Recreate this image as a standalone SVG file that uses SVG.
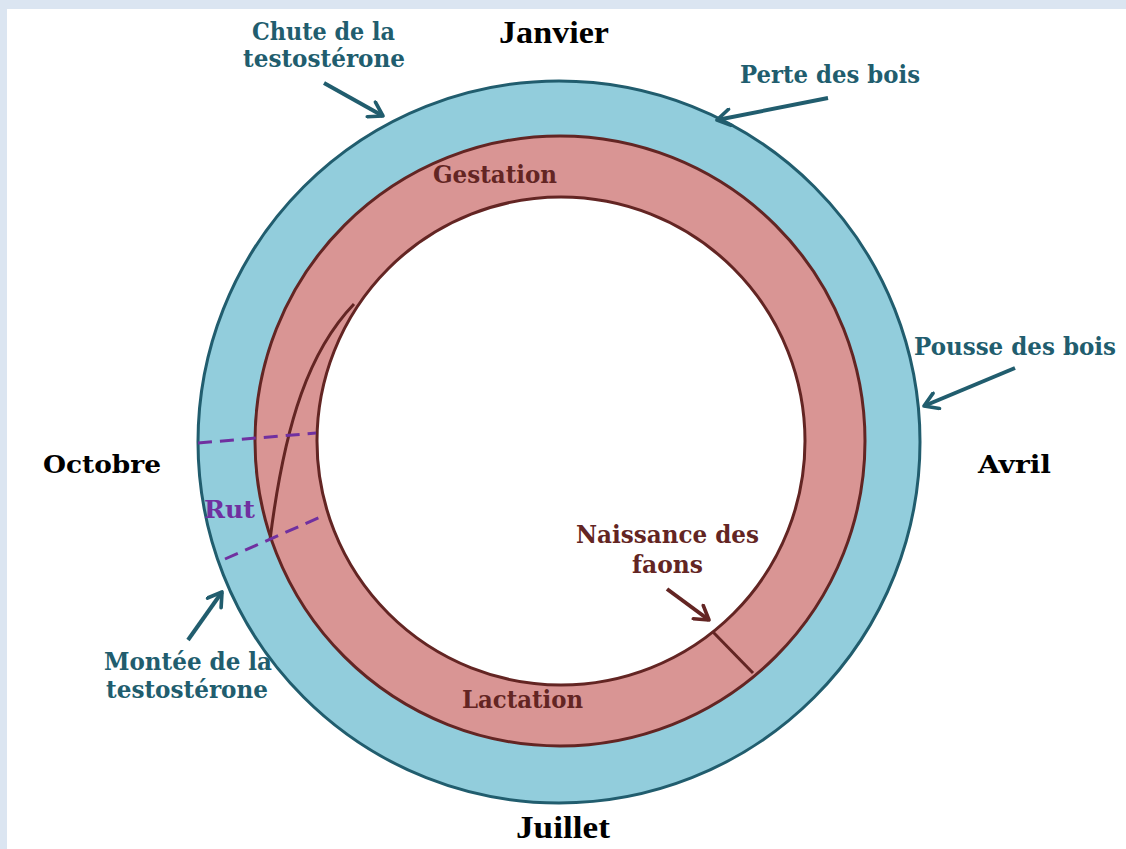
<svg xmlns="http://www.w3.org/2000/svg" width="1126" height="849" viewBox="0 0 1126 849">
<defs>
<style>
.t{font-family:"DejaVu Serif","Liberation Serif",serif;font-weight:bold;font-size:24px;text-anchor:middle}
.m{font-family:"Liberation Serif","DejaVu Serif",serif;font-weight:bold;font-size:31px;text-anchor:middle;fill:#000}
.teal{fill:#215d6e}
.red{fill:#632523}
.aT{stroke:#215d6e;stroke-width:4;fill:none}
.aR{stroke:#632523;stroke-width:4;fill:none}
.dash{stroke:#7030a0;stroke-width:3;stroke-dasharray:14 8;fill:none}
</style>
<marker id="hT" viewBox="0 0 12 12" refX="10" refY="6" markerWidth="5" markerHeight="5" orient="auto" markerUnits="strokeWidth">
<path d="M2,1 L10,6 L2,11" fill="none" stroke="#215d6e" stroke-width="2.2" stroke-linecap="round" stroke-linejoin="round"/>
</marker>
<marker id="hR" viewBox="0 0 12 12" refX="10" refY="6" markerWidth="5" markerHeight="5" orient="auto" markerUnits="strokeWidth">
<path d="M2,1 L10,6 L2,11" fill="none" stroke="#632523" stroke-width="2.2" stroke-linecap="round" stroke-linejoin="round"/>
</marker>
</defs>
<rect width="1126" height="849" fill="#dbe5f1"/>
<rect x="7" y="9" width="1119" height="840" fill="#ffffff"/>

<g id="ring-outer">
<circle cx="559" cy="442" r="361" fill="#92cddc" stroke="#215d6e" stroke-width="3"/>
</g>
<g id="ring-pink">
<circle cx="560" cy="441" r="305" fill="#d99594" stroke="#632523" stroke-width="3"/>
</g>
<g id="ring-inner">
<circle cx="561" cy="441" r="244" fill="#ffffff" stroke="#632523" stroke-width="3"/>
</g>

<g id="connectors">
<path d="M354,304 C310,350 285,420 270,540" fill="none" stroke="#632523" stroke-width="3"/>
<line x1="713" y1="632" x2="753" y2="673" stroke="#632523" stroke-width="3"/>
<line class="dash" x1="198" y1="443" x2="316" y2="433"/>
<line class="dash" x1="225" y1="559" x2="325" y2="515"/>
<line class="aT" x1="324" y1="83" x2="383" y2="116" marker-end="url(#hT)"/>
<line class="aT" x1="828" y1="98" x2="717" y2="120" marker-end="url(#hT)"/>
<line class="aT" x1="1015" y1="368" x2="924" y2="406" marker-end="url(#hT)"/>
<line class="aT" x1="188" y1="640" x2="222" y2="592" marker-end="url(#hT)"/>
<line class="aR" x1="667" y1="589" x2="709" y2="620" marker-end="url(#hR)"/>
</g>

<g id="months">
<text class="m" x="554" y="43" textLength="110" lengthAdjust="spacingAndGlyphs">Janvier</text>
<text class="m" x="563" y="838" textLength="94" lengthAdjust="spacingAndGlyphs">Juillet</text>
<text class="t" x="102" y="473" fill="#000" textLength="118" lengthAdjust="spacingAndGlyphs" style="font-size:25px">Octobre</text>
<text class="t" x="1014.5" y="473" fill="#000" textLength="73" lengthAdjust="spacingAndGlyphs" style="font-size:25px">Avril</text>
</g>

<g id="label-chute">
<text class="t teal" x="323.5" y="40" textLength="143" lengthAdjust="spacingAndGlyphs">Chute de la</text>
<text class="t teal" x="324" y="67" textLength="162" lengthAdjust="spacingAndGlyphs">testostérone</text>
</g>
<g id="label-perte">
<text class="t teal" x="830" y="83" textLength="180" lengthAdjust="spacingAndGlyphs">Perte des bois</text>
</g>
<g id="label-pousse">
<text class="t teal" x="1015" y="355" textLength="202" lengthAdjust="spacingAndGlyphs">Pousse des bois</text>
</g>
<g id="label-montee">
<text class="t teal" x="188" y="670" textLength="168" lengthAdjust="spacingAndGlyphs">Montée de la</text>
<text class="t teal" x="187" y="698" textLength="162" lengthAdjust="spacingAndGlyphs">testostérone</text>
</g>
<g id="label-rut">
<text class="t" x="229.5" y="518" fill="#7030a0" textLength="51" lengthAdjust="spacingAndGlyphs">Rut</text>
</g>
<g id="label-naissance">
<text class="t red" x="667.5" y="543" textLength="183" lengthAdjust="spacingAndGlyphs">Naissance des</text>
<text class="t red" x="667.5" y="573" textLength="71" lengthAdjust="spacingAndGlyphs">faons</text>
</g>
<g id="label-gestation">
<text class="t red" x="495" y="183" textLength="124" lengthAdjust="spacingAndGlyphs">Gestation</text>
</g>
<g id="label-lactation">
<text class="t red" x="522.5" y="708" textLength="121" lengthAdjust="spacingAndGlyphs">Lactation</text>
</g>
</svg>
